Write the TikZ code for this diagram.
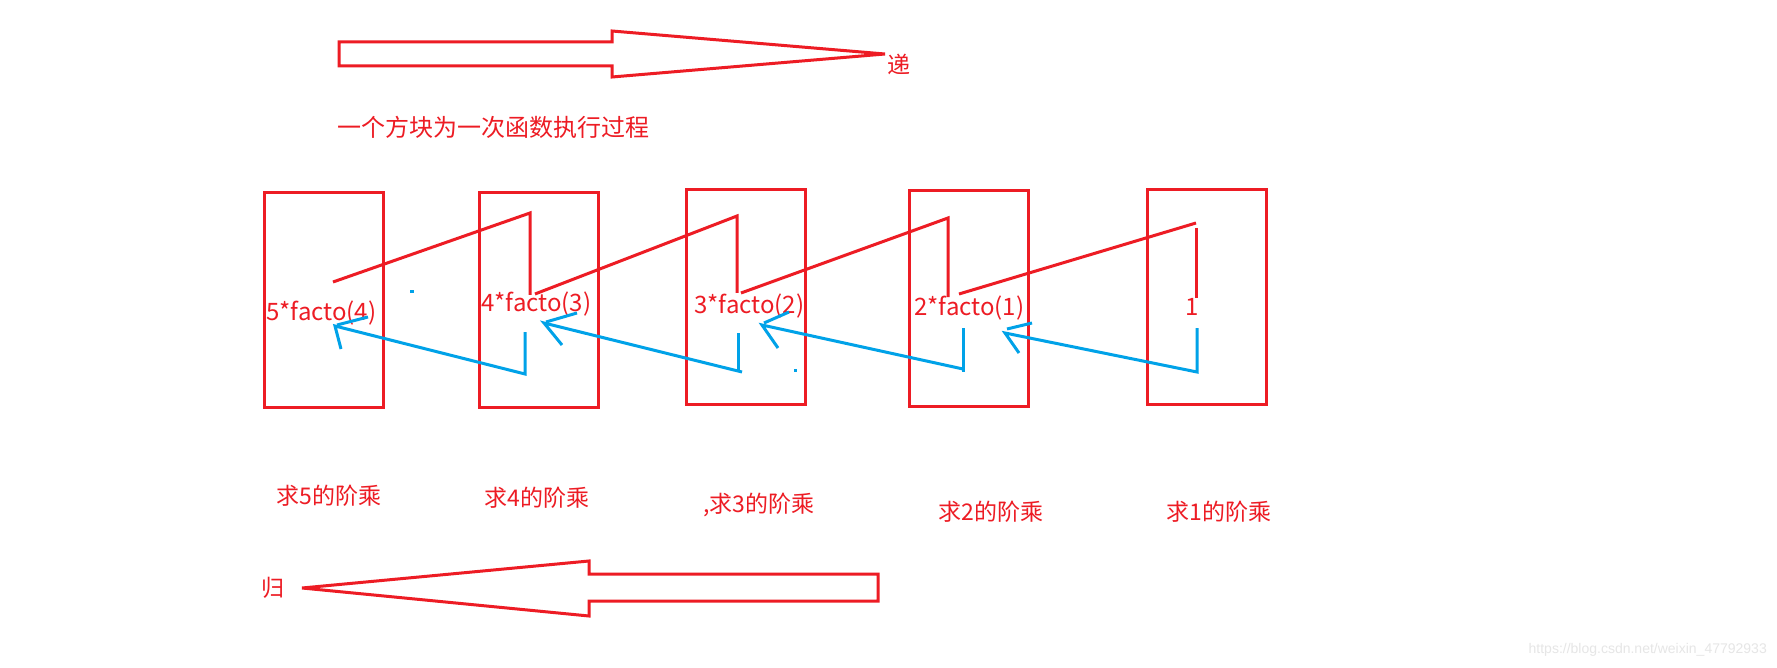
\documentclass[tikz,border=0pt]{standalone}
\usepackage{fontspec}
\newfontfamily\cjk{Noto Sans CJK SC}
\newfontfamily\wmfont{Liberation Sans}
\definecolor{pred}{HTML}{ED1C24}
\definecolor{pblue}{HTML}{00A2E8}
\definecolor{wmgray}{HTML}{E6E6E6}
\begin{document}
\begin{tikzpicture}[x=1pt,y=-1pt,
  redline/.style={draw=pred, line width=3pt},
  blueline/.style={draw=pblue, line width=3pt},
  framebox/.style={draw=pred, line width=3pt, inner sep=0pt, minimum width=119pt, minimum height=214pt},
  lbl/.style={text=pred, inner sep=0pt, font=\cjk\fontsize{23}{23}\selectfont},
  toplbl/.style={text=pred, inner sep=0pt, font=\cjk\fontsize{24}{24}\selectfont},
  flbl/.style={text=pred, inner sep=0pt, anchor=base west, font=\cjk\fontsize{24}{24}\selectfont},
  wm/.style={text=wmgray, inner sep=0pt, font=\wmfont\fontsize{14}{14}\selectfont},
  dot/.style={fill=pblue, draw=none}
]
\useasboundingbox[fill=white] (0,0) rectangle (1777,668);

% big arrows
\draw[redline] (339,42) -- (612,42) -- (612,31) -- (885,54) -- (612,77) -- (612,66) -- (339,66) -- cycle;
\draw[redline] (302,588) -- (589,561) -- (589,574) -- (878,574) -- (878,601) -- (589,601) -- (589,616) -- cycle;
\node[lbl] (di) at (899,64) {递};
\node[lbl] (gui) at (273,588) {归};
\node[toplbl, anchor=west] (note) at (337,127) {一个方块为一次函数执行过程};

% boxes
\node[framebox] (b5) at (324,300) {};
\node[framebox] (b4) at (538.5,300) {};
\node[framebox] (b3) at (745.5,297) {};
\node[framebox, minimum height=215pt] (b2) at (968.5,298.5) {};
\node[framebox] (b1) at (1206.5,297) {};

% box texts
\node[flbl] (t5) at (266,320) {5*facto(4)};
\node[flbl] (t4) at (481,311) {4*facto(3)};
\node[flbl] (t3) at (694,313) {3*facto(2)};
\node[flbl] (t2) at (914,315) {2*facto(1)};
\node[flbl] (t1) at (1185,316) {1};

% bottom labels
\node[lbl] (l5) at (329,496) {求5的阶乘};
\node[lbl] (l4) at (537,498) {求4的阶乘};
\node[lbl] (l3) at (759,505) {,求3的阶乘};
\node[lbl] (l2) at (991,512) {求2的阶乘};
\node[lbl] (l1) at (1219,512) {求1的阶乘};

% red recursion path
\coordinate (r1a) at (333,282); \coordinate (r1b) at (530,213); \coordinate (r1c) at (530,295);
\coordinate (r2a) at (535,294); \coordinate (r2b) at (737,216); \coordinate (r2c) at (737,293);
\coordinate (r3a) at (741,293); \coordinate (r3b) at (948,218); \coordinate (r3c) at (948,297);
\coordinate (r4a) at (959,294); \coordinate (r4b) at (1196,223);
\coordinate (r4d) at (1196,228); \coordinate (r4c) at (1196,298);
\draw[redline] (r1a) -- (r1b) -- (r1c);
\draw[redline] (r2a) -- (r2b) -- (r2c);
\draw[redline] (r3a) -- (r3b) -- (r3c);
\draw[redline] (r4a) -- (r4b);
\draw[redline] (r4d) -- (r4c);

% blue return path
\coordinate (u1a) at (1197,328); \coordinate (u1b) at (1197,372); \coordinate (u1t) at (1005,333);
\coordinate (u1p) at (1032,323); \coordinate (u1q) at (1007,329); \coordinate (u1r) at (1019,353);
\draw[blueline] (u1a) -- (u1b) -- (u1t) -- (u1r);
\draw[blueline] (u1p) -- (u1q);

\coordinate (u2a) at (963,328); \coordinate (u2b) at (963,372); \coordinate (u2c) at (963,369);
\coordinate (u2t) at (762,325); \coordinate (u2p) at (789,312); \coordinate (u2q) at (764,323); \coordinate (u2r) at (778,348);
\draw[blueline] (u2a) -- (u2b);
\draw[blueline] (u2c) -- (u2t) -- (u2r);
\draw[blueline] (u2p) -- (u2q);

\coordinate (u3a) at (738,333); \coordinate (u3b) at (738,372); \coordinate (u3c) at (742,372);
\coordinate (u3t) at (544,323); \coordinate (u3p) at (577,313); \coordinate (u3q) at (546,322); \coordinate (u3r) at (562,345);
\draw[blueline] (u3a) -- (u3b);
\draw[blueline] (u3c) -- (u3t) -- (u3r);
\draw[blueline] (u3p) -- (u3q);

\coordinate (u4a) at (525,332); \coordinate (u4b) at (525,374);
\coordinate (u4t) at (335,326); \coordinate (u4p) at (368,317); \coordinate (u4q) at (337,325); \coordinate (u4r) at (341,349);
\draw[blueline] (u4a) -- (u4b) -- (u4t) -- (u4r);
\draw[blueline] (u4p) -- (u4q);

% stray dots
\fill[dot] (410,290.5) rectangle (414,293.5);
\fill[dot] (793.5,368.5) rectangle (796.5,371.5);

% watermark
\node[wm, anchor=east] (wmk) at (1767,650) {https://blog.csdn.net/weixin\_47792933};
\end{tikzpicture}
\end{document}
